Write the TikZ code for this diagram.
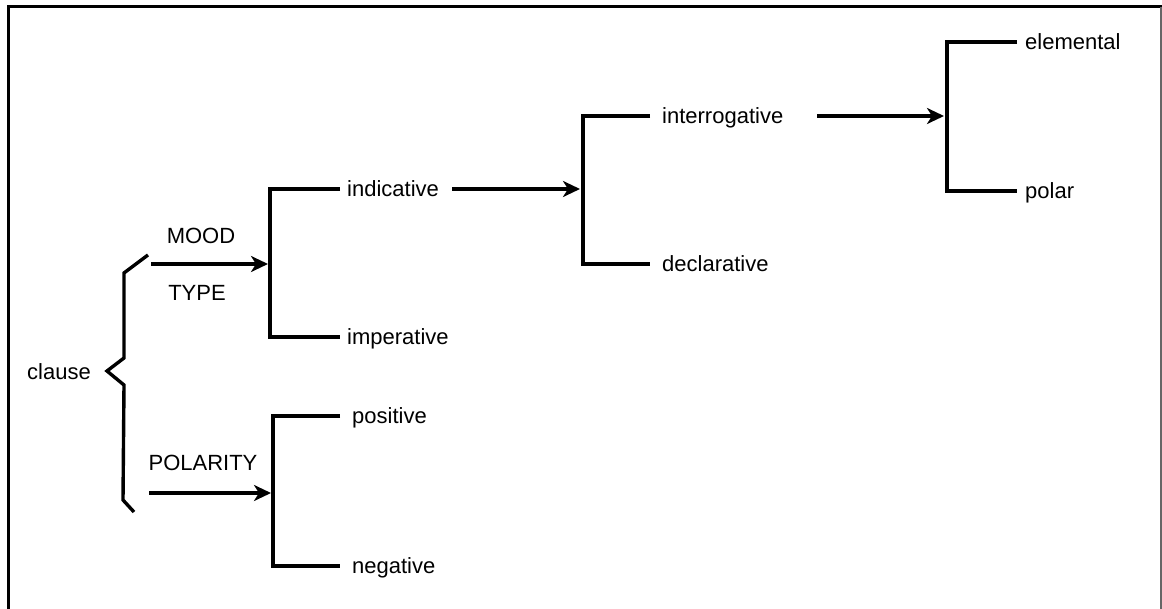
\documentclass[tikz,border=0pt]{standalone}
\usepackage{fontspec}
\setmainfont{Liberation Sans}
\usetikzlibrary{arrows.meta}
\begin{document}
\begin{tikzpicture}[x=1pt,y=-1pt,
  lbl/.style={font=\fontsize{22}{26}\selectfont, inner sep=0pt, text height=16pt, text depth=5pt},
  term/.style={lbl, anchor=west},
  line/.style={line width=3.4pt, line join=miter},
  arr/.style={line width=3.4pt, -{Stealth[length=17pt,width=16pt,inset=5pt]}}]
\useasboundingbox (0,0) rectangle (1162,609);
% frame
\draw[line width=3pt] (8,640) -- (8,7) -- (1162,7);
\draw[line width=1.6pt, black!60] (1161,7) -- (1161,640);

% labels
\node[lbl] (clause) at (59,374) {clause};
\node[lbl] (mood) at (201,238) {MOOD};
\node[lbl] (type) at (197,295) {TYPE};
\node[lbl] (polarity) at (203,465) {POLARITY};
\node[term] (ind) at (347,191) {indicative};
\node[term] (imp) at (347,339) {imperative};
\node[term] (pos) at (352,418) {positive};
\node[term] (neg) at (352,568) {negative};
\node[term] (inter) at (662,118) {interrogative};
\node[term] (decl) at (662,266) {declarative};
\node[term] (elem) at (1025,44) {elemental};
\node[term] (polar) at (1025,193) {polar};

% brace after "clause"
\draw[line] (148,255) -- (124,273) -- (124,358) -- (107,371) -- (124,385) -- (123,500) -- (134,512);

% spines of the choice brackets
\coordinate (mspine) at (270,264);
\coordinate (pspine) at (273,493);
\coordinate (dspine) at (583,189);
\coordinate (qspine) at (947,116);
\coordinate (mstart) at (151,264);
\coordinate (pstart) at (149,493);

\draw[line] ([xshift=-7pt,yshift=2pt]ind.west) -| (mspine) |- ([xshift=-7pt,yshift=2pt]imp.west);
\draw[line] ([xshift=-12pt,yshift=2pt]pos.west) -| (pspine) |- ([xshift=-12pt,yshift=2pt]neg.west);
\draw[line] ([xshift=-12pt,yshift=2pt]inter.west) -| (dspine) |- ([xshift=-12pt,yshift=2pt]decl.west);
\draw[line] ([xshift=-8pt,yshift=2pt]elem.west) -| (qspine) |- ([xshift=-8pt,yshift=2pt]polar.west);

% entry arrows
\draw[arr] (mstart) -- ([xshift=-2pt]mspine);
\draw[arr] (pstart) -- ([xshift=-2pt]pspine);
\draw[arr] ([xshift=13pt,yshift=2pt]ind.east) -- ([xshift=-3pt]dspine);
\draw[arr] ([xshift=34pt,yshift=2pt]inter.east) -- ([xshift=-3pt]qspine);
\end{tikzpicture}
\end{document}
